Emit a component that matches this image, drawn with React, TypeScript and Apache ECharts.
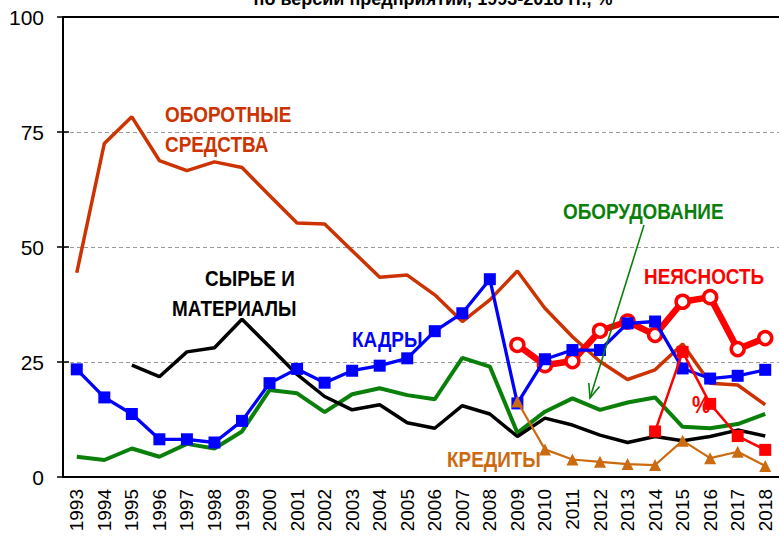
import React, { useEffect, useRef } from "react";
import * as echarts from "echarts";

const years = [
  "1993", "1994", "1995", "1996", "1997", "1998", "1999", "2000", "2001", "2002",
  "2003", "2004", "2005", "2006", "2007", "2008", "2009", "2010", "2011", "2012",
  "2013", "2014", "2015", "2016", "2017", "2018",
];

const oborotnye = [44.4, 72.5, 78.3, 68.8, 66.6, 68.5, 67.3, 61.2, 55.2, 55.0, 49.2, 43.4, 43.9, 39.6, 33.8, 38.5, 44.8, 36.7, 30.5, 25.1, 21.2, 23.3, 28.9, 20.4, 20.0, 15.7];
const syrye = [null, null, 24.3, 21.8, 27.2, 28.1, 34.3, 28.3, 22.3, 17.5, 14.6, 15.7, 11.8, 10.6, 15.5, 13.7, 8.8, 12.8, 11.3, 9.1, 7.5, 8.8, 7.9, 8.8, 10.2, 8.9];
const oborudovanie = [4.4, 3.7, 6.2, 4.4, 7.2, 6.2, 9.9, 18.9, 18.2, 14.1, 18.0, 19.3, 17.8, 16.9, 25.9, 24.0, 9.6, 14.2, 17.1, 14.6, 16.2, 17.3, 10.9, 10.6, 11.5, 13.7];
const kadry = [23.4, 17.3, 13.7, 8.2, 8.2, 7.5, 12.2, 20.4, 23.5, 20.5, 23.1, 24.2, 25.8, 31.7, 35.6, 43.0, 16.0, 25.6, 27.6, 27.6, 33.4, 33.8, 23.6, 21.4, 22.0, 23.3];
const kredity = [null, null, null, null, null, null, null, null, null, null, null, null, null, null, null, null, 16.4, 6.0, 3.8, 3.3, 2.8, 2.6, 7.9, 4.1, 5.5, 2.4];
const neyasnost = [null, null, null, null, null, null, null, null, null, null, null, null, null, null, null, null, 28.7, 24.3, 25.2, 31.8, 33.8, 30.9, 38.1, 39.1, 27.8, 30.2];
const procent = [null, null, null, null, null, null, null, null, null, null, null, null, null, null, null, null, null, null, null, null, null, 9.9, 27.2, 15.9, 8.9, 5.9];

const yTicks = { min: 0, max: 100, interval: 25 };

const FONT = '"Liberation Sans", Arial, sans-serif';
const C_OBOR = "#CC3300";
const C_SYR = "#000000";
const C_EQ = "#0A800A";
const C_KAD = "#0000FF";
const C_KRED = "#CC6A10";
const C_RED = "#FF0000";

function label(text: string, x: number, y: number, color: string, size = 22) {
  return {
    type: "text",
    x,
    y,
    scaleX: 0.86,
    z: 100,
    style: {
      text,
      fill: color,
      fontSize: size,
      fontWeight: "bold",
      fontFamily: FONT,
      textVerticalAlign: "top",
      verticalAlign: "top",
    },
  };
}

export default function App() {
  const ref = useRef<HTMLDivElement>(null);
  useEffect(() => {
    if (!ref.current) return;
    const chart = echarts.init(ref.current, null, { renderer: "svg" });
    const axisLineStyle = { color: "#000", width: 2 };
    const tickStyle = { color: "#000", width: 1.5 };
    const option: any = {
      animation: false,
      grid: { left: 63, top: 17, width: 718, height: 460 },
      xAxis: [
        {
          type: "category",
          data: years,
          boundaryGap: true,
          position: "bottom",
          axisLine: { lineStyle: axisLineStyle },
          axisTick: { length: 7, lineStyle: tickStyle },
          axisLabel: { rotate: 90, margin: 12, fontSize: 19, color: "#000", fontFamily: FONT, interval: 0 },
          splitLine: { show: false },
        },
        {
          type: "category",
          data: years,
          boundaryGap: true,
          position: "bottom",
          axisLine: { show: false, onZero: false },
          axisTick: { inside: true, length: 7, lineStyle: tickStyle },
          axisLabel: { show: false },
          splitLine: { show: false },
        },
        {
          type: "category",
          data: years,
          boundaryGap: true,
          position: "top",
          axisLine: { show: true, onZero: false, lineStyle: axisLineStyle },
          axisTick: { show: false },
          axisLabel: { show: false },
          splitLine: { show: false },
        },
      ],
      yAxis: [
        {
          type: "value",
          ...yTicks,
          position: "left",
          axisLine: { show: true, lineStyle: axisLineStyle },
          axisTick: { show: true, length: 6, lineStyle: tickStyle },
          axisLabel: { margin: 19, fontSize: 21, color: "#000", fontFamily: FONT },
          splitLine: { show: true, lineStyle: { color: "#9a9a9a", width: 1, type: [4, 3] } },
        },
        {
          type: "value",
          ...yTicks,
          position: "left",
          axisLine: { show: false },
          axisTick: { show: true, inside: true, length: 6, lineStyle: tickStyle },
          axisLabel: { show: false },
          splitLine: { show: false },
        },
      ],
      series: [
        {
          name: "Оборотные средства",
          type: "line",
          data: oborotnye,
          symbol: "none",
          lineStyle: { color: C_OBOR, width: 3.5 },
          z: 2,
        },
        {
          name: "Оборудование",
          type: "line",
          data: oborudovanie,
          symbol: "none",
          lineStyle: { color: C_EQ, width: 4 },
          z: 3,
        },
        {
          name: "Сырье и материалы",
          type: "line",
          data: syrye,
          symbol: "none",
          lineStyle: { color: C_SYR, width: 3.5 },
          z: 3,
        },
        {
          name: "Неясность",
          type: "line",
          data: neyasnost,
          symbol: "circle",
          symbolSize: 13,
          itemStyle: { color: "#fff", borderColor: C_RED, borderWidth: 3.5 },
          lineStyle: { color: C_RED, width: 6.5 },
          z: 4,
        },
        {
          name: "Кадры",
          type: "line",
          data: kadry,
          symbol: "rect",
          symbolSize: 12,
          itemStyle: { color: C_KAD },
          lineStyle: { color: C_KAD, width: 3.3 },
          z: 5,
        },
        {
          name: "Кредиты",
          type: "line",
          data: kredity,
          symbol: "triangle",
          symbolSize: 12,
          itemStyle: { color: C_KRED },
          lineStyle: { color: C_KRED, width: 2.2 },
          z: 6,
        },
        {
          name: "%",
          type: "line",
          data: procent,
          symbol: "rect",
          symbolSize: 12,
          itemStyle: { color: C_RED },
          lineStyle: { color: C_RED, width: 2.5 },
          z: 7,
        },
      ],
      graphic: [
        {
          type: "text",
          x: 433,
          y: 8,
          style: {
            text: "по версии предприятий, 1993-2018 гг., %",
            fill: "#000",
            fontSize: 18,
            fontWeight: "bold",
            fontFamily: FONT,
            textAlign: "center",
            textVerticalAlign: "bottom",
            verticalAlign: "bottom",
          },
        },
        label("ОБОРОТНЫЕ", 165, 103, C_OBOR),
        label("СРЕДСТВА", 165, 133, C_OBOR),
        label("СЫРЬЕ И", 205, 267, C_SYR),
        label("МАТЕРИАЛЫ", 172, 297, C_SYR),
        label("КАДРЫ", 352, 328, C_KAD),
        label("ОБОРУДОВАНИЕ", 563, 200, C_EQ),
        label("НЕЯСНОСТЬ", 644, 265, C_RED),
        label("КРЕДИТЫ", 447, 448, C_KRED),
        label("%", 692, 393, C_RED, 24),
        {
          type: "line",
          z: 100,
          shape: { x1: 644, y1: 225, x2: 590, y2: 398 },
          style: { stroke: C_EQ, lineWidth: 1.6 },
        },
        {
          type: "polyline",
          z: 100,
          shape: { points: [[588.8, 383], [590, 398], [599.5, 386.4]] },
          style: { stroke: C_EQ, lineWidth: 1.6, fill: null },
        },
      ],
    };
    chart.setOption(option);
    return () => chart.dispose();
  }, []);
  return (
    <div
      ref={ref}
      style={{ position: "absolute", left: 0, top: 0, width: 779, height: 539, background: "#fff" }}
    />
  );
}
